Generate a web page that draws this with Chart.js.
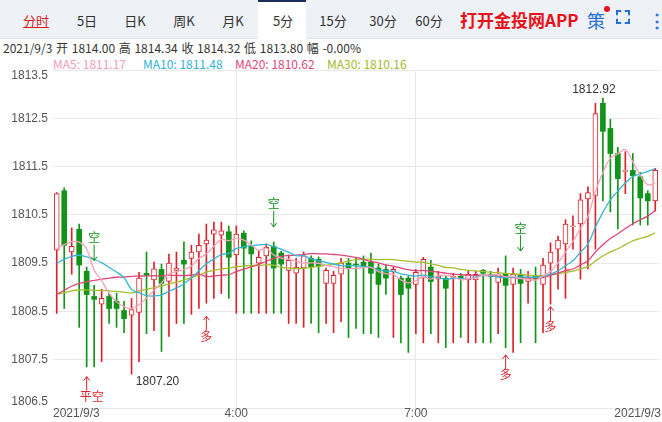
<!DOCTYPE html>
<html><head><meta charset="utf-8">
<script src="https://cdn.jsdelivr.net/npm/chart.js@4/dist/chart.umd.min.js"></script>
<style>
body{margin:0;width:662px;height:422px;overflow:hidden;background:#fff;font-family:"Microsoft YaHei","Noto Sans CJK SC",Arial,sans-serif;}
#bar{position:absolute;left:0;top:0;width:662px;height:38px;background:#eef2f7;border-bottom:1px solid #dfe4ec;}
.t{position:absolute;top:11px;font-size:13px;color:#333;transform:translateX(-50%);}
#act{position:absolute;left:258px;top:0;width:48px;height:39px;background:#fff;border-top:2px solid #1b2d5b;box-sizing:border-box;}
#app{position:absolute;left:460px;top:7px;font-size:17px;font-weight:bold;color:#e8121b;}
#info{position:absolute;left:3px;top:39px;font-size:12px;color:#333;word-spacing:1px;}
#ma{position:absolute;top:55px;font-size:12px;}
#wrap{position:absolute;left:0;top:0;width:662px;height:422px;}
</style></head><body>
<div id="bar">
<div id="act"></div>
<span class="t" style="left:36px;color:#d62020;text-decoration:underline">分时</span>
<span class="t" style="left:87px">5日</span>
<span class="t" style="left:135px">日K</span>
<span class="t" style="left:184px">周K</span>
<span class="t" style="left:233px">月K</span>
<span class="t" style="left:283px">5分</span>
<span class="t" style="left:333px">15分</span>
<span class="t" style="left:383px">30分</span>
<span class="t" style="left:429px">60分</span>
<span id="app">打开金投网APP</span>
<span style="position:absolute;left:587px;top:7px;font-size:18px;color:#2a6fd6">策</span>
<span style="position:absolute;left:604px;top:6px;width:6px;height:6px;border-radius:3px;background:#e8121b"></span>
<span style="position:absolute;left:616px;top:10px;width:14px;height:14px;border:2px dashed #2a6fd6;box-sizing:border-box"></span>
<span style="position:absolute;left:648px;top:6px;font-size:18px;color:#2a6fd6;font-weight:bold">⋮</span>
</div>
<div id="info">2021/9/3 开 1814.00 高 1814.34 收 1814.32 低 1813.80 幅 -0.00%</div>
<div id="ma"><span style="position:absolute;left:53px;color:#f29bb5;white-space:nowrap">MA5: 1811.17</span><span style="position:absolute;left:143px;color:#2fb3d4;white-space:nowrap">MA10: 1811.48</span><span style="position:absolute;left:235px;color:#e0457a;white-space:nowrap">MA20: 1810.62</span><span style="position:absolute;left:327px;color:#9fbb2a;white-space:nowrap">MA30: 1810.16</span></div>
<div id="wrap"><canvas id="c" width="662" height="422"></canvas></div>
<script>
const opens=[1809.77,1811.0,1809.73,1810.2,1809.33,1808.81,1808.65,1808.81,1808.71,1808.52,1808.42,1808.48,1809.29,1809.15,1809.37,1809.12,1809.35,1809.56,1809.6,1809.73,1809.9,1810.1,1810.08,1810.15,1809.67,1810.12,1809.85,1809.5,1809.65,1809.85,1809.71,1809.35,1809.29,1809.4,1809.6,1809.58,1809.08,1809.08,1809.27,1809.5,1809.48,1809.52,1809.52,1809.4,1809.37,1809.33,1809.19,1809.19,1809.06,1809.19,1809.42,1809.17,1809.19,1809.19,1809.23,1809.15,1809.15,1809.35,1809.27,1809.1,1809.29,1809.06,1809.25,1809.12,1809.23,1809.06,1809.5,1809.79,1809.9,1810.25,1810.31,1810.83,1810.9,1812.81,1812.29,1811.77,1811.4,1811.42,1811.29,1810.94,1810.79];
const closes=[1810.94,1809.87,1809.85,1809.46,1808.85,1808.75,1808.77,1808.56,1808.56,1808.35,1808.54,1809.19,1809.25,1809.38,1809.08,1809.5,1809.4,1809.48,1809.73,1809.87,1809.98,1810.19,1810.17,1809.62,1810.1,1809.81,1809.69,1809.62,1809.83,1809.4,1809.48,1809.56,1809.42,1809.65,1809.42,1809.44,1809.35,1809.25,1809.5,1809.4,1809.46,1809.42,1809.29,1809.06,1809.19,1809.37,1808.85,1808.98,1809.31,1809.58,1809.12,1809.23,1808.98,1809.23,1809.2,1809.27,1809.27,1809.29,1809.23,1809.27,1809.04,1809.27,1809.08,1809.19,1809.17,1809.46,1809.73,1809.98,1810.31,1810.27,1810.81,1810.96,1812.6,1812.23,1811.77,1811.25,1811.42,1811.31,1810.85,1810.79,1811.42];
const highs=[1810.96,1811.06,1810.23,1810.31,1809.42,1809.04,1808.96,1808.88,1808.88,1808.71,1808.77,1809.31,1809.73,1809.52,1809.48,1809.69,1809.73,1809.94,1809.87,1810.1,1810.31,1810.35,1810.35,1810.27,1810.27,1810.17,1809.96,1809.75,1809.9,1809.94,1809.75,1809.67,1809.6,1809.73,1809.65,1809.63,1809.4,1809.33,1809.6,1809.6,1809.6,1809.65,1809.71,1809.48,1809.46,1809.42,1809.23,1809.23,1809.37,1809.62,1809.56,1809.33,1809.23,1809.29,1809.29,1809.33,1809.33,1809.37,1809.33,1809.4,1809.65,1809.4,1809.37,1809.33,1809.42,1809.6,1809.92,1810.06,1810.4,1810.48,1810.94,1811.08,1812.81,1812.92,1812.48,1811.9,1811.81,1811.77,1811.38,1811.0,1811.46];
const lows=[1808.46,1808.56,1809.27,1808.17,1807.35,1807.35,1807.46,1808.25,1808.17,1808.06,1807.2,1807.46,1808.04,1808.1,1807.67,1807.98,1808.25,1808.25,1808.44,1808.56,1808.67,1808.77,1808.87,1808.77,1808.46,1808.46,1808.46,1808.46,1808.46,1808.46,1808.46,1808.25,1808.25,1808.17,1808.25,1808.06,1808.25,1808.06,1808.29,1807.96,1808.15,1808.04,1808.04,1807.96,1808.85,1807.96,1807.85,1807.65,1808.04,1807.85,1808.04,1807.85,1807.75,1807.85,1807.96,1807.85,1807.85,1807.85,1807.85,1808.04,1807.75,1807.65,1807.85,1808.67,1807.85,1808.06,1808.65,1808.96,1808.77,1809.79,1809.17,1809.38,1809.79,1810.79,1810.56,1810.21,1810.94,1810.29,1810.29,1810.29,1810.58];
// estimated closes before the visible window (seed for moving averages)
const priorCloses=[1808.9,1808.8,1808.85,1808.9,1808.95,1808.8,1808.85,1808.9,1808.8,1808.95,1808.1,1808.2,1808.3,1808.15,1808.2,1808.25,1808.1,1808.2,1808.3,1808.2,1809.1,1809.2,1809.25,1809.2,1809.25,1809.45,1809.55,1809.5,1809.56];
const timeLabels={0:'2021/9/3',24:'4:00',48:'7:00',80:'2021/9/3'};
const signals=[{i:5,t:'空',dir:'down',v:1809.55},{i:4,t:'平空',dir:'up',v:1807.15},{i:20,t:'多',dir:'up',v:1808.4},{i:29,t:'空',dir:'down',v:1810.25},{i:60,t:'多',dir:'up',v:1807.6},{i:62,t:'空',dir:'down',v:1809.75},{i:66,t:'多',dir:'up',v:1808.6}];

const labels=closes.map((_,i)=>i);
const all=priorCloses.concat(closes);
function ma(n){return closes.map((_,i)=>{const k=i+priorCloses.length;let s=0;for(let j=k-n+1;j<=k;j++)s+=all[j];return +(s/n).toFixed(3);});}
const RED='#d8242c',GREEN='#12931a';
const up=closes.map((c,i)=>c>=opens[i]);
const col=up.map(u=>u?RED:GREEN);
const line=(d,c)=>({type:'line',data:d,borderColor:c,borderWidth:1.3,pointRadius:0,tension:0.4,order:0});
const ov={id:'ov',afterDraw(ch){const x=ch.scales.x,y=ch.scales.y,ctx=ch.ctx;ctx.save();
 ctx.fillStyle='#555';ctx.font='12px Arial, sans-serif';ctx.textBaseline='middle';ctx.textAlign='right';
 for(let v=1806.5;v<=1813.5;v+=1){ctx.fillText(v.toFixed(1),48,Math.min(Math.max(y.getPixelForValue(v),76),402));}
 ctx.textBaseline='top';
 for(const k in timeLabels){const px=x.getPixelForValue(+k);ctx.textAlign=k==0?'left':(k==80?'right':'center');ctx.fillText(timeLabels[k],k==0?53:(k==80?661:px),408);}
 ctx.fillStyle='#333';ctx.textAlign='center';ctx.textBaseline='bottom';
 ctx.fillText('1812.92',x.getPixelForValue(73)-9,y.getPixelForValue(1812.92)-2);
 ctx.textBaseline='top';ctx.fillText('1807.20',x.getPixelForValue(10)+26,y.getPixelForValue(1807.2)+1);
 ctx.font='12px "Noto Sans CJK SC"';
 for(const s of signals){const px=x.getPixelForValue(s.i),py=y.getPixelForValue(s.v);
  const c=s.dir=='down'?GREEN:RED;ctx.strokeStyle=c;ctx.fillStyle=c;ctx.lineWidth=1;
  if(s.dir=='down'){ctx.textAlign='center';ctx.textBaseline='bottom';ctx.fillText(s.t,px,py-17);
   ctx.beginPath();ctx.moveTo(px,py-16);ctx.lineTo(px,py);ctx.moveTo(px-3,py-4);ctx.lineTo(px,py);ctx.lineTo(px+3,py-4);ctx.stroke();}
  else{ctx.beginPath();ctx.moveTo(px,py);ctx.lineTo(px,py+14);ctx.moveTo(px-3,py+4);ctx.lineTo(px,py);ctx.lineTo(px+3,py+4);ctx.stroke();
   ctx.textAlign='center';ctx.textBaseline='top';ctx.fillText(s.t,s.t=='多'?px:px+5,py+14);}
 }
 ctx.restore();}};
new Chart(document.getElementById('c'),{
 data:{labels,datasets:[
  line(ma(5),'#f4a3b9'),line(ma(10),'#35b6d6'),line(ma(20),'#e0457a'),line(ma(30),'#a3bf2e'),
  {type:'bar',data:lows.map((l,i)=>[l,highs[i]]),backgroundColor:col,barThickness:1,grouped:false,order:2},
  {type:'bar',data:opens.map((o,i)=>[o,closes[i]]),backgroundColor:up.map(u=>u?'#fff':GREEN),borderColor:col,borderWidth:up.map(u=>u?1:0),borderSkipped:false,barThickness:5,minBarLength:1,grouped:false,order:1}
 ]},
 options:{responsive:false,animation:false,events:[],
  layout:{padding:{left:53,top:70,right:3,bottom:14}},
  plugins:{legend:{display:false},tooltip:{enabled:false}},
  scales:{
   x:{offset:true,ticks:{display:false},grid:{offset:false,drawTicks:false,color:c=>(c.index==24||c.index==48)?'#e8e8e8':'rgba(0,0,0,0)'},border:{display:false}},
   y:{min:1806.5,max:1813.5,ticks:{display:false,stepSize:1},grid:{drawTicks:false,color:'#e8e8e8'},border:{display:false}}
  }},
 plugins:[ov]});
</script></body></html>
